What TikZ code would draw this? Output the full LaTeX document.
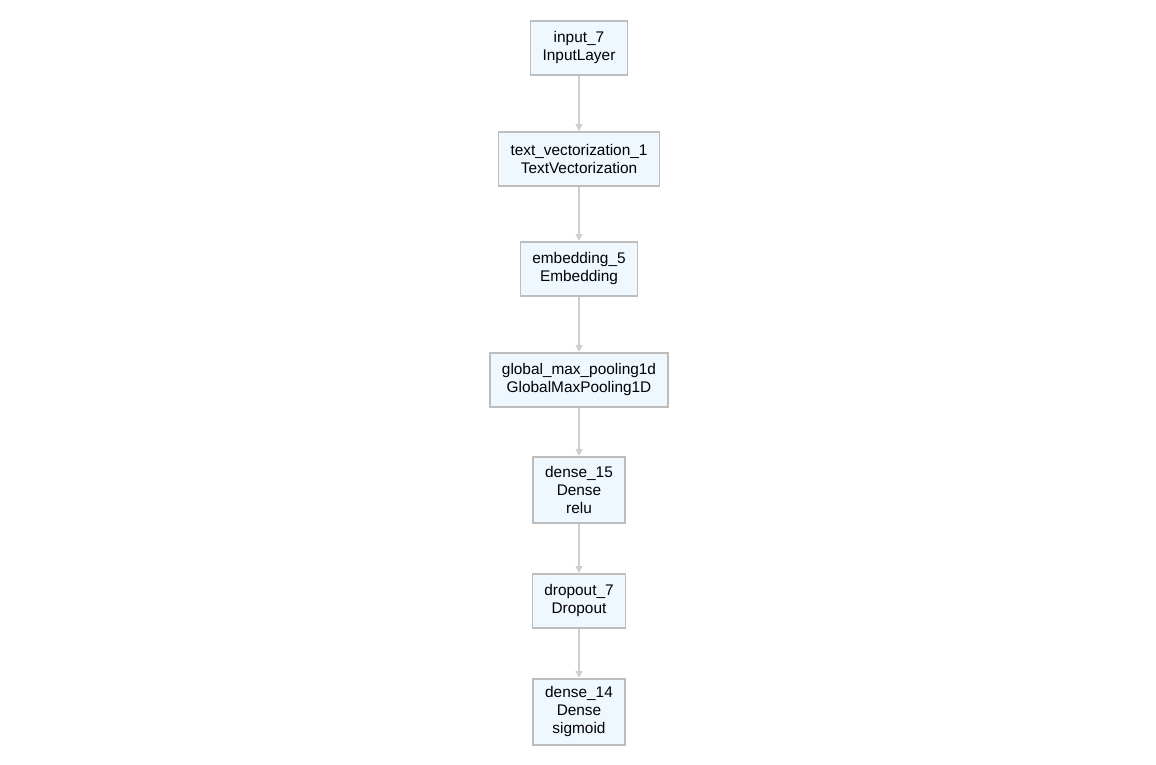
\documentclass[tikz,border=0pt]{standalone}
\usepackage{fontspec}
\setmainfont{Liberation Sans}
\usepackage{tikz}
\usetikzlibrary{positioning}
\usetikzlibrary{arrows.meta}
\definecolor{layerfill}{HTML}{F0F8FF}
\definecolor{layerdraw}{HTML}{BDBDBD}
\definecolor{linkgray}{HTML}{CFCFCF}

\begin{document}
\begin{tikzpicture}[x=1pt, y=1pt,
				layer/.style={draw=layerdraw, fill=layerfill, line width=1.6pt, rectangle, inner xsep=12pt, minimum height=54.4pt, font=\fontsize{15.4}{18}\selectfont},
				every text node part/.style={align=center}]
				\useasboundingbox (0,0) rectangle (1156,-764);
				\node[layer](input7) at (579, -48) {input\_7\\InputLayer};
				\node[layer, below=55pt of input7](textvec) {text\_vectorization\_1\\TextVectorization};
				\node[layer, below=54pt of textvec](embed5) {embedding\_5\\Embedding};
				\node[layer, below=55pt of embed5](gmaxpool) {global\_max\_pooling1d\\GlobalMaxPooling1D};
				\node[layer, minimum height=66.4pt, below=48pt of gmaxpool](dense15) {dense\_15\\Dense\\relu};
				\node[layer, below=49pt of dense15](drop7) {dropout\_7\\Dropout};
				\node[layer, minimum height=66.4pt, below=49pt of drop7](dense14) {dense\_14\\Dense\\sigmoid};
				
				\draw[->,>={Triangle[length=7pt, width=7pt]}, line width=1.6pt, linkgray] (input7) edge (textvec);
				\draw[->,>={Triangle[length=7pt, width=7pt]}, line width=1.6pt, linkgray] (textvec) edge (embed5);
				\draw[->,>={Triangle[length=7pt, width=7pt]}, line width=1.6pt, linkgray] (embed5) edge (gmaxpool);
				\draw[->,>={Triangle[length=7pt, width=7pt]}, line width=1.6pt, linkgray] (gmaxpool) edge (dense15);
				\draw[->,>={Triangle[length=7pt, width=7pt]}, line width=1.6pt, linkgray] (dense15) edge (drop7);
				\draw[->,>={Triangle[length=7pt, width=7pt]}, line width=1.6pt, linkgray] (drop7) edge (dense14);
				
			\end{tikzpicture}
\end{document}
